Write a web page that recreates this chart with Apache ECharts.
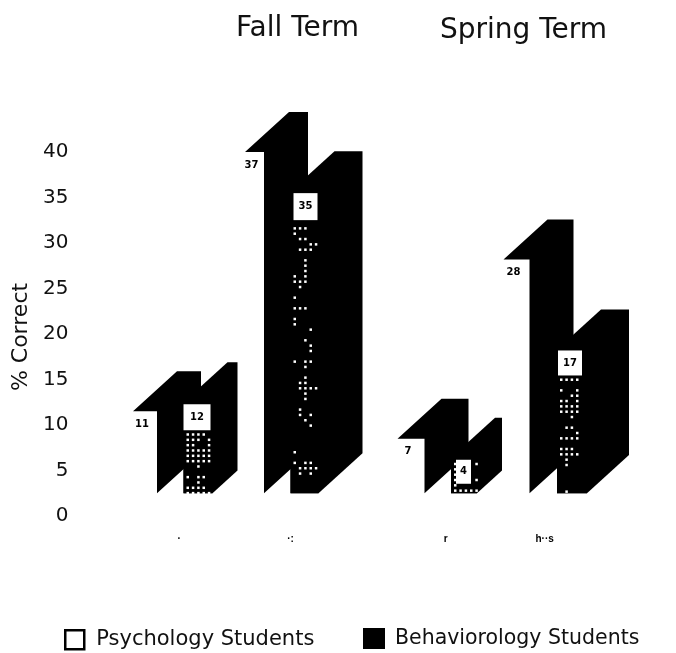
<!DOCTYPE html>
<html>
<head>
<meta charset="utf-8">
<style>html,body{margin:0;background:#fff}#container{width:676px;height:653px}</style>
<script src="https://cdn.jsdelivr.net/npm/echarts@6/dist/echarts.min.js"></script>
</head>
<body>
<div id="container"></div>
<script>
// values
var terms = ['Fall Term', 'Spring Term'];
var seriesNames = ['Psychology Students', 'Behaviorology Students'];
var yTicks = [0, 5, 10, 15, 20, 25, 30, 35, 40];
var psychSlots = [0, 2, 5, 7];
var behavSlots = [1, 3, 6, 8];
var psychValues = [11.5, 40, 8.5, 28.2];
var behavValues = [12.5, 35.7, 6.4, 18.3];
var psychLabels = ['11', '37', '7', '28'];
var behavLabels = ['12', '35', '4', '17'];
var xTickSlots = [0.92, 3, 5.9, 7.75];
var xTickLabels = ['·', '·:', 'r', 'h··s'];

// drawing look, not data
var floorValue = 2.5;
var depthX = 44, depthY = 40;
var psychLook = [
    {nudge: 3, width: 24, reach: 44},
    {nudge: 8, width: 19, reach: 44},
    {nudge: 0, width: 27, reach: 44},
    {nudge: -1, width: 26, reach: 44}
];
var behavLook = [
    {nudge: 0, width: 29, reach: 25, box: [0, 2, 27, 26], dotTop: 31, dots: [
        'xxxx.', 'xxx.x', 'xx..x', 'xxxxx', 'xxxxx', 'xxxxx', '..x..', '.....',
        'x.xx.', '..x..', 'xxxx.', 'xxxxx']},
    {nudge: 0, width: 28, reach: 44, box: [3, 2, 24, 27], dotTop: 36, dots: [
        'xxx..', 'x....', '.xx..', '...xx', '.xxx.', '.....', '..x..', '..x..', '..x..',
        'x.x..', 'xxx..', '.x...', '.....', 'x....', '.....', 'xxx..', '.....', 'x....',
        'x....', '...x.', '.....', '..x..', '...x.', '...x.', '.....', 'x.xx.', '..x..',
        '.....', '..x..', '.xx..', '.xxxx', '..x..', '..x..', '.....', '.x...', '.x.x.',
        '..x..', '...x.', '.....', '.....', '.....', '.....', 'x....', '.....', 'x.xx.',
        '.xxxx', '.x.x.']},
    {nudge: 0, width: 26, reach: 25, box: [5, 2, 15, 24], dotTop: 5, dots: [
        'x...x', 'x....', 'x....', 'x...x', 'x....', 'xxxxx', 'xxxxx']},
    {nudge: -1, width: 30, reach: 42, box: [1, 1, 24, 25], dotTop: 29, dots: [
        'xxxx', '....', 'x..x', '..xx', 'xx.x', 'xxxx', 'xxxx', '..x.', '....', '.xx.',
        '...x', 'xxxx', '....', 'xxx.', 'xxxx', '.x..', '.x..', '....', '....', '....',
        '....', '.x..']}
];

function drawBar(api, look, label, isPsych) {
    var top = api.coord([api.value(0), api.value(1)]);
    var base = api.coord([api.value(0), floorValue]);
    var fl = top[0] + look.nudge, fr = fl + look.width;
    var ty = top[1], by = base[1];
    var right = fr + look.reach;
    var backY = ty - depthY;
    var blackStyle = {fill: '#000'};
    var children = [];
    var outline = [[fl, ty], [fl + depthX, backY], [right, backY],
        [right, by - look.reach * depthY / depthX], [fr, by]];
    outline.push(isPsych ? [fr, ty] : [fl, by]);
    children.push({type: 'polygon', shape: {points: outline}, style: blackStyle});
    if (isPsych) {
        children.push({type: 'text', style: {text: label, x: (fl + fr) / 2 - 3, y: ty + 13,
            align: 'center', verticalAlign: 'middle', font: 'bold 10px "DejaVu Sans"', fill: '#000'}});
    } else {
        children.push({type: 'rect', shape: {x: fl, y: ty, width: look.width, height: by - ty}, style: blackStyle});
        look.dots.forEach(function (row, r) {
            row.split('').forEach(function (c, k) {
                if (c != 'x') return;
                children.push({type: 'rect', shape: {x: fl + 3 + k * 5.33, y: ty + look.dotTop + r * 5.33, width: 2.5, height: 2.5},
                    style: {fill: '#fff'}});
            });
        });
        var bx = fl + look.box[0], bw = look.box[2], bh = look.box[3];
        children.push({type: 'rect', shape: {x: bx, y: ty + look.box[1], width: bw, height: bh}, style: {fill: '#fff'}});
        children.push({type: 'text', style: {text: label, x: bx + bw / 2, y: ty + look.box[1] + bh / 2,
            align: 'center', verticalAlign: 'middle', font: 'bold 10px "DejaVu Sans"', fill: '#000'}});
    }
    return {type: 'group', children: children};
}

function toRows(slots, values) {
    return slots.map(function (s, i) { return [s, values[i]]; });
}

var charts = echarts.init(document.getElementById('container'), null, {renderer: 'canvas'});
var titleText = {fontFamily: 'DejaVu Sans', fontSize: 28, fontWeight: 'normal', color: '#111'};

charts.setOption({
    animation: false,
    backgroundColor: '#fff',
    title: [
        {text: terms[0], left: 231, top: 10, textStyle: titleText},
        {text: terms[1], left: 435, top: 12, textStyle: titleText}
    ],
    legend: [
        {data: [{name: seriesNames[0], icon: 'rect', itemStyle: {borderWidth: 2.5}}],
            padding: 0, left: 64, top: 629, itemWidth: 19, itemHeight: 19,
            textStyle: {fontFamily: 'DejaVu Sans', fontSize: 21, color: '#111', padding: [0, 0, 0, 7]}},
        {data: [{name: seriesNames[1], icon: 'rect'}],
            padding: 0, left: 363, top: 628, itemWidth: 22, itemHeight: 21,
            textStyle: {fontFamily: 'DejaVu Sans', fontSize: 20.5, color: '#111', padding: [0, 0, 0, 5]}}
    ],
    grid: {left: 76.5, top: 152, width: 588.5, height: 364},
    xAxis: {
        type: 'value', min: -1, max: 10,
        splitLine: {show: false}, axisLine: {show: false}, axisTick: {show: false},
        axisLabel: {
            customValues: xTickSlots, margin: 18, fontSize: 10, fontWeight: 'bold', color: '#000',
            formatter: function (v) { return xTickLabels[xTickSlots.indexOf(v)]; }
        }
    },
    yAxis: {
        type: 'value', min: yTicks[0], max: yTicks[yTicks.length - 1], interval: 5,
        name: '% Correct', nameLocation: 'middle', nameRotate: 90, nameGap: 42,
        nameTextStyle: {fontFamily: 'DejaVu Sans', fontSize: 22, color: '#111', padding: [0, 6, 0, 0]},
        splitLine: {show: false}, axisLine: {show: false}, axisTick: {show: false},
        axisLabel: {margin: 8, fontFamily: 'DejaVu Sans', fontSize: 20, color: '#111'}
    },
    series: [
        {
            name: seriesNames[0], type: 'custom', clip: false,
            itemStyle: {color: '#fff', borderColor: '#000', borderWidth: 2},
            data: toRows(psychSlots, psychValues),
            renderItem: function (params, api) {
                return drawBar(api, psychLook[params.dataIndex], psychLabels[params.dataIndex], true);
            }
        },
        {
            name: seriesNames[1], type: 'custom', clip: false,
            itemStyle: {color: '#000'},
            data: toRows(behavSlots, behavValues),
            renderItem: function (params, api) {
                return drawBar(api, behavLook[params.dataIndex], behavLabels[params.dataIndex], false);
            }
        }
    ]
});
</script>
</body>
</html>
